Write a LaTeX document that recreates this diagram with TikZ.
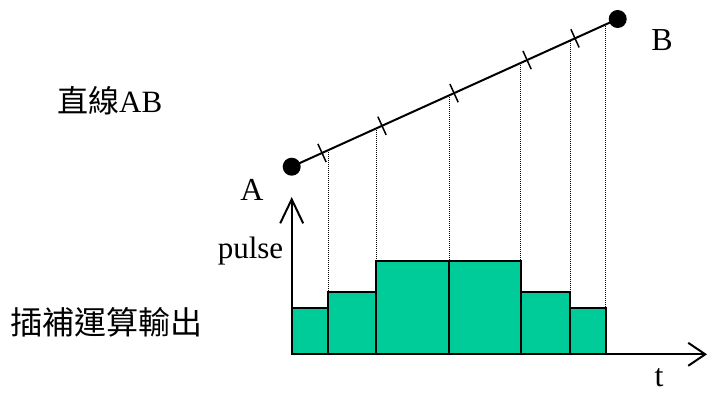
\documentclass[tikz,border=0pt]{standalone}
\usepackage{fontspec}
\setmainfont{Liberation Serif}
\newfontfamily\cjk{Noto Sans CJK TC}
\usetikzlibrary{arrows.meta, calc}
\definecolor{barfill}{HTML}{00CC99}

\begin{document}
\begin{tikzpicture}[x=1pt, y=-1pt,
  dot/.style={circle, fill=black, inner sep=0pt, minimum size=18pt},
  tickmark/.style={line width=1.5pt},
  guide/.style={line width=1pt, dash pattern=on 1pt off 1pt},
  bar/.style={draw=black, line width=2pt, fill=barfill},
  axis/.style={line width=2pt},
  lbl/.style={inner sep=0pt, font=\fontsize{31}{37}\selectfont}]
\useasboundingbox (0,0) rectangle (709,394);

% straight line AB
\node[dot] (A) at (291.7,166.7) {};
\node[dot] (B) at (617.7,19) {};
\draw[line width=2pt] (A.center) -- (B.center);

% division ticks
\foreach \f in {0.093,0.277,0.498,0.722,0.869}
  \draw[tickmark] ($(A.center)!\f!(B.center)!10pt!90:(B.center)$) -- ($(A.center)!\f!(B.center)!10pt!-90:(B.center)$);

% pulse bars
\coordinate (O) at (291.7,354.3);
\foreach \xa/\xb/\h in {291.7/328.3/307.7, 328.3/376/292.3, 376/449/260.7,
                        449/521/260.7, 521/570/292.3, 570/605.7/307.7}
  \filldraw[bar] (\xa,354.3) rectangle (\xb,\h);

% dotted guides from the line down to the bars
\foreach \f/\h [count=\i] in {0.112/292.3, 0.259/260.7, 0.483/260.7,
                              0.703/260.7, 0.854/292.3, 0.963/307.7} {
  \coordinate (g\i) at ($(A.center)!\f!(B.center)$);
  \coordinate (b\i) at (g\i |- 0,\h);
  \draw[guide] (g\i) -- (b\i);
}

% axes
\coordinate (ytip) at (291.7,197);
\coordinate (xtip) at (707,354.3);
\draw[axis, -{Straight Barb[length=24pt, width=23pt]}] (O) -- (ytip);
\draw[axis, -{Straight Barb[length=17pt, width=23pt]}] (O) -- (xtip);

% labels
\node[lbl, anchor=base west] (title) at (57,112) {{\cjk 直線}AB};
\node[lbl, anchor=base, font=\fontsize{32}{38}\selectfont] (labA) at (252,200) {A};
\node[lbl, anchor=base, font=\fontsize{32}{38}\selectfont] (labB) at (662,50) {B};
\node[lbl, anchor=base] (pulse) at (250.5,258) {pulse};
\node[lbl, anchor=base, font=\fontsize{32}{38}\selectfont\cjk] (output) at (106,334) {插補運算輸出};
\node[lbl, anchor=base, font=\fontsize{32}{38}\selectfont] (t) at (659,386) {t};
\end{tikzpicture}
\end{document}
